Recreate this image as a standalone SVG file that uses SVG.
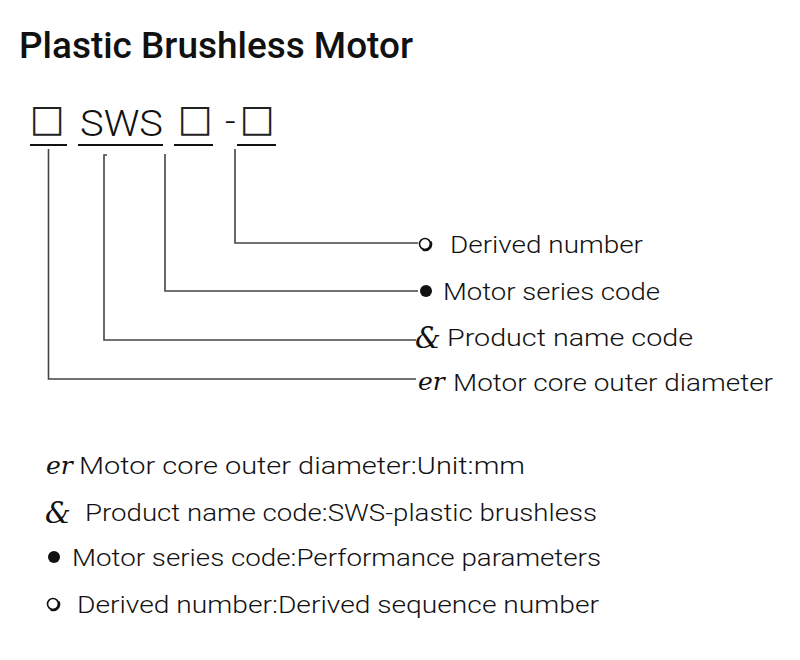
<svg xmlns="http://www.w3.org/2000/svg" width="800" height="660" viewBox="0 0 800 660">
<style>
.t{font-family:Roboto,"Noto Sans","Liberation Sans",sans-serif;fill:#111;}
.title{font-size:36px;font-weight:500;}
.code{font-size:37px;font-weight:300;}
.box{font-family:"DejaVu Sans",sans-serif;font-size:37px;fill:#222;}
.lbl{font-size:23.5px;font-weight:300;}
.orn{font-family:"DejaVu Serif","Liberation Serif",serif;font-style:italic;font-size:25px;fill:#111;}
.amp{font-family:"DejaVu Serif","Liberation Serif",serif;font-style:italic;font-size:29px;fill:#111;}
.ul{stroke:#111;stroke-width:2;}
.ln{fill:none;stroke:#444;stroke-width:1.6;}
.oc{fill:#fff;stroke:#111;stroke-width:1.6;}
.sh{fill:none;stroke:#111;stroke-width:2.4;stroke-linecap:round;}
</style>
<defs>
<g id="ocirc">
<circle class="oc" cx="0" cy="0" r="5.5"/>
<path class="sh" d="M5.9,-1.5 A6.1,6.1 0 0 1 -1.5,5.9"/>
</g>
</defs>
<rect width="800" height="660" fill="#fff"/>
<text class="t title" x="19" y="58" textLength="394" lengthAdjust="spacingAndGlyphs">Plastic Brushless Motor</text>
<g id="code">
<text class="box" x="30" y="131">□</text>
<text class="t code" x="80" y="136" textLength="83" lengthAdjust="spacingAndGlyphs">SWS</text>
<text class="box" x="178" y="131">□</text>
<text class="t code" x="225" y="134">-</text>
<text class="box" x="240" y="131">□</text>
<line class="ul" x1="30" y1="145" x2="67" y2="145"/>
<line class="ul" x1="78" y1="145" x2="163" y2="145"/>
<line class="ul" x1="174" y1="145" x2="213" y2="145"/>
<line class="ul" x1="237" y1="145" x2="276" y2="145"/>
</g>
<g id="connectors">
<polyline class="ln" points="48.5,149 48.5,379 416,379"/>
<polyline class="ln" points="107,155 104,155 104,340 416,340"/>
<polyline class="ln" points="165,154 165,291 418,291"/>
<polyline class="ln" points="235,149 235,243 418,243"/>
</g>
<g id="label-derived">
<use href="#ocirc" x="425" y="244"/>
<text class="t lbl" x="450" y="253" textLength="193" lengthAdjust="spacingAndGlyphs">Derived number</text>
</g>
<g id="label-series">
<circle cx="426" cy="291" r="6" fill="#111"/>
<text class="t lbl" x="443" y="300" textLength="217" lengthAdjust="spacingAndGlyphs">Motor series code</text>
</g>
<g id="label-product">
<text class="amp" x="415" y="348">&amp;</text>
<text class="t lbl" x="447" y="346" textLength="246" lengthAdjust="spacingAndGlyphs">Product name code</text>
</g>
<g id="label-core">
<text class="orn" x="418" y="390">er</text>
<text class="t lbl" x="453" y="391" textLength="320" lengthAdjust="spacingAndGlyphs">Motor core outer diameter</text>
</g>
<g id="legend">
<text class="orn" x="46" y="474">er</text>
<text class="t lbl" x="79" y="474" textLength="446" lengthAdjust="spacingAndGlyphs">Motor core outer diameter:Unit:mm</text>
<text class="amp" x="45" y="523">&amp;</text>
<text class="t lbl" x="85" y="521" textLength="512" lengthAdjust="spacingAndGlyphs">Product name code:SWS-plastic brushless</text>
<circle cx="54" cy="557" r="6" fill="#111"/>
<text class="t lbl" x="72" y="566" textLength="529" lengthAdjust="spacingAndGlyphs">Motor series code:Performance parameters</text>
<use href="#ocirc" x="53" y="604"/>
<text class="t lbl" x="77" y="613" textLength="522" lengthAdjust="spacingAndGlyphs">Derived number:Derived sequence number</text>
</g>
</svg>
